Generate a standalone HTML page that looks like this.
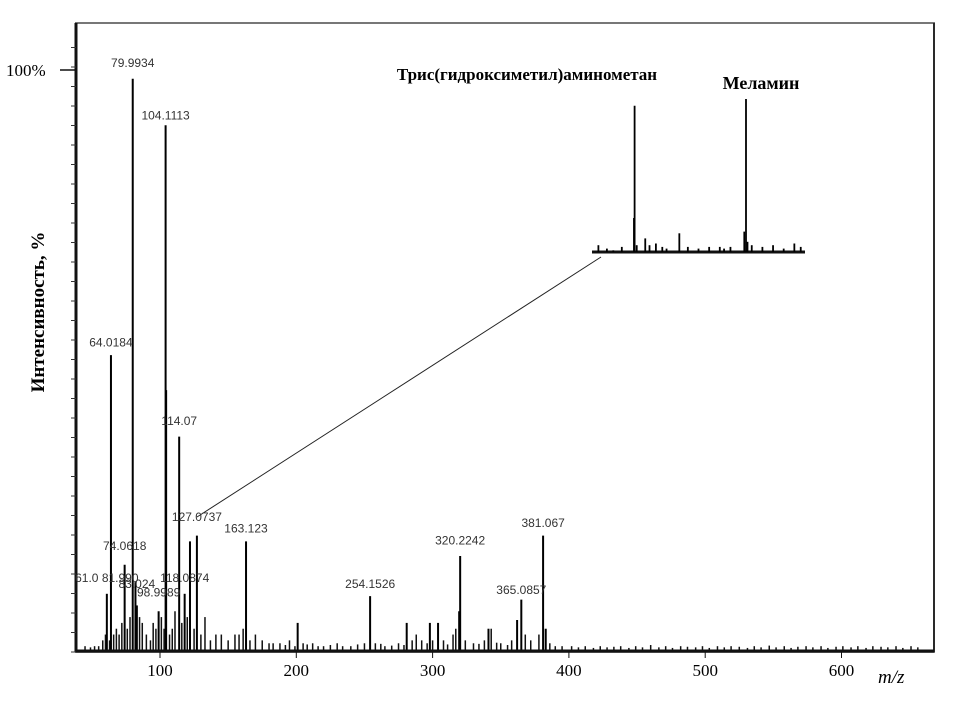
<!DOCTYPE html>
<html><head><meta charset="utf-8">
<style>
html,body{margin:0;padding:0;background:#fff;}
svg{display:block;}
.lbl{font-family:"Liberation Sans",sans-serif;font-size:12px;fill:#333;}
.ser{font-family:"Liberation Serif","DejaVu Serif",serif;}
</style></head>
<body>
<svg id="chart" width="974" height="718" viewBox="0 0 974 718" xmlns="http://www.w3.org/2000/svg">
<rect x="76" y="23" width="858" height="629" fill="none" stroke="#777" stroke-width="2"/>
<line x1="76" y1="23" x2="76" y2="652" stroke="#111" stroke-width="3"/>
<line x1="934" y1="23" x2="934" y2="652" stroke="#111" stroke-width="1.5"/>
<text class="ser" x="6" y="76" font-size="17">100%</text>
<line x1="60" y1="70" x2="75" y2="70" stroke="#111" stroke-width="1.5"/>
<text class="ser" transform="translate(44,312) rotate(-90)" text-anchor="middle" font-size="19" font-weight="bold">Интенсивность,  %</text>
<text class="ser" x="878" y="683" font-size="19" font-style="italic">m/z</text>
<text class="ser" x="527" y="80" text-anchor="middle" font-size="17" font-weight="bold">Трис(гидроксиметил)аминометан</text>
<text class="ser" x="761" y="89" text-anchor="middle" font-size="18" font-weight="bold">Меламин</text>
<line x1="601" y1="257" x2="197" y2="517" stroke="#222" stroke-width="1"/>
<g id="g"></g>
<line x1="76" y1="651" x2="934" y2="651" stroke="#111" stroke-width="3"/>
</svg>
<script>
const xTicks = [100, 200, 300, 400, 500, 600];
const peakMz = [61.0, 64.0184, 74.0618, 79.9934, 81.99, 83.024, 98.9989, 104.1113, 104.5, 114.07, 118.0874, 122.0, 127.0737, 163.123, 201.0, 254.1526, 281.0, 298.0, 304.0, 320.2242, 319.5, 341.0, 362.0, 365.0857, 381.067, 383.0];
const peakInt = [10, 51, 15, 98.5, 12, 8, 7, 90.5, 45, 37, 10, 19, 20, 19, 5, 9.6, 5, 5, 5, 16.5, 7, 4, 5.5, 9, 20, 4];
const noiseMz = [55,58,60,63,66,68,70,72,76,78,85,87,90,93,95,97,101,103,107,109,111,116,120,125,130,133,137,141,145,150,155,158,161,166,170,175,180,188,195,205,212,220,230,240,250,258,265,275,285,288,292,300,308,315,317,324,330,338,343,350,358,368,372,378,386,395,
 402,407,412,418,423,428,433,438,444,449,454,460,466,471,476,482,487,493,498,503,509,514,519,525,531,536,541,547,552,558,563,568,574,579,585,590,596,601,607,612,618,623,629,634,640,645,651,656,
 45,49,52,183,192,199,208,216,225,234,245,262,270,279,296,311,334,347,355,390];
const noiseInt = [1,2,3,2,3,4,3,5,4,6,6,5,3,2,5,4,6,4,3,4,7,5,6,4,3,6,2,3,3,2,3,3,4,2,3,2,1.5,1.5,2,1.5,1.5,1,1.5,1,1.5,1.5,1,1.5,2,3,2,2,2,3,4,2,1.5,2,4,1.5,2,3,2,3,1.5,1,
 1,0.8,1,0.7,1,0.8,0.9,1,0.7,1,0.8,1.2,0.8,1,0.7,1,0.9,0.8,1,0.7,1,0.8,1,0.9,0.7,1,0.8,1.1,0.8,1,0.7,0.9,1,0.8,1,0.7,0.9,1,0.8,1,0.7,1,0.9,0.8,1,0.7,1,0.8,
 1,0.8,1,1.5,1.2,1,1.3,1,1.2,1,1.3,1.4,1.1,1.2,1.5,1.3,1.4,1.6,1.2,1];
const labelText = ["79.9934","104.1113","64.0184","114.07","127.0737","163.123","74.0618","61.0 81.990","83.024","118.0874","98.9989","254.1526","320.2242","365.0857","381.067"];
const labelMz = [80,104.1,64,114.1,127.1,163.1,74.1,61,83,118.1,99,254.2,320.2,365.1,381.1];
const labelInt = [100.5,91.5,52.5,39,22.5,20.5,17.5,12,11,12,9.5,11,18.5,10,21.5];
const insetPos = [3,7,10,14,19.7,20,21,25,27,30,33,35,41,45,50,55,60,62,65,71.5,72.3,73,75,80,85,90,95,98];
const insetInt = [4,2,1,3,20,86,4,8,4,5,3,2,11,3,2,3,3,2,3,12,90,6,4,3,4,2,5,3];

const NS = "http://www.w3.org/2000/svg";
const g = document.getElementById('g');
const X = m => 160 + (m - 100) * 1.363;
const Y = v => 652 - v * 5.82;
const IX = p => 592 + p * 2.13;
const IY = v => 252 - v * 1.7;
function mk(tag, attrs){ const e=document.createElementNS(NS,tag); for(const k in attrs) e.setAttribute(k,attrs[k]); g.appendChild(e); return e; }

xTicks.forEach(t=>{
  const l = mk('line',{x1:X(t),y1:652,x2:X(t),y2:658,stroke:'#111'});
  
  
  const tx = mk('text',{x:X(t),y:676,'text-anchor':'middle','font-size':17,'font-family':'"Liberation Serif",serif'});
  tx.textContent = t;
  
  
});
for(let y=652;y>30;y-=19.5){
  const l = mk('line',{x1:71,y1:y,x2:76,y2:y,stroke:'#333'});
  
  
}
noiseMz.forEach((m,i)=>{
  const l = mk('line',{x1:X(m),y1:652,x2:X(m),y2:Y(noiseInt[i]),stroke:'#111','stroke-width':1.5});
  
  
});
peakMz.forEach((m,i)=>{
  const l = mk('line',{x1:X(m),y1:652,x2:X(m),y2:Y(peakInt[i]),stroke:'#000','stroke-width':2});
  
  
});
labelText.forEach((t,i)=>{
  const tx = mk('text',{x:X(labelMz[i]),y:Y(labelInt[i]),'text-anchor':'middle',class:'lbl'});
  tx.textContent = t;
  
  
});
const base = mk('line',{x1:592,y1:252,x2:805,y2:252,stroke:'#111','stroke-width':3});


insetPos.forEach((p,i)=>{
  const l = mk('line',{x1:IX(p),y1:252,x2:IX(p),y2:IY(insetInt[i]),stroke:'#000','stroke-width':1.8});
  
  
});
</script>
</body></html>
